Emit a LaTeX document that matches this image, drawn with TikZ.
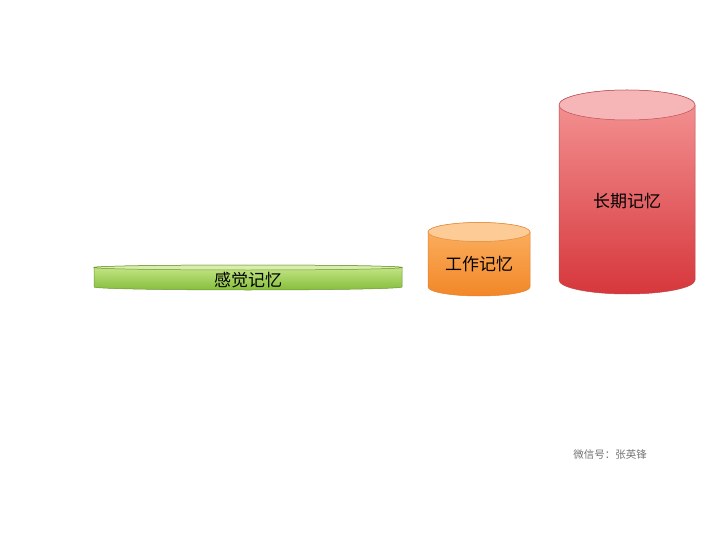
\documentclass[tikz,border=0pt]{standalone}
\usepackage{fontspec}
\newfontfamily\cjk{Noto Sans CJK SC}
\begin{document}
\begin{tikzpicture}[x=1pt,y=-1pt,
  lbl/.style={font=\cjk\fontsize{17}{20}\selectfont, text=black},
  wm/.style={font=\cjk\fontsize{10.5}{12}\selectfont, text=black!55}]
\useasboundingbox (0,0) rectangle (720,540);
% green flat cylinder
\path[top color={rgb,255:red,200;green,232;blue,140}, bottom color={rgb,255:red,134;green,190;blue,60}, draw={rgb,255:red,110;green,150;blue,50}, line width=0.5pt]
  (94,267.5) -- (94,287) arc[start angle=180, end angle=0, x radius=154, y radius=3] -- (402,267.5) arc[start angle=360, end angle=180, x radius=154, y radius=2.5] -- cycle;
\path[fill={rgb,255:red,214;green,238;blue,170}, draw={rgb,255:red,110;green,150;blue,50}, line width=0.5pt]
  (248,267.5) ellipse[x radius=154, y radius=2.5];
\node[lbl] (s) at (248,280) {感觉记忆};
% orange cylinder
\path[top color={rgb,255:red,252;green,178;blue,100}, bottom color={rgb,255:red,242;green,135;blue,40}, draw={rgb,255:red,225;green,130;blue,50}, line width=0.5pt]
  (428,232) -- (428,287) arc[start angle=180, end angle=0, x radius=51, y radius=9] -- (530,232) arc[start angle=360, end angle=180, x radius=51, y radius=9.5] -- cycle;
\path[fill={rgb,255:red,252;green,203;blue,150}, draw={rgb,255:red,225;green,140;blue,60}, line width=0.5pt]
  (479,232) ellipse[x radius=51, y radius=9.5];
\node[lbl] (w) at (479,264) {工作记忆};
% red cylinder
\path[top color={rgb,255:red,245;green,150;blue,150}, bottom color={rgb,255:red,214;green,55;blue,60}, draw={rgb,255:red,190;green,70;blue,75}, line width=0.5pt]
  (559,105) -- (559,280) arc[start angle=180, end angle=0, x radius=68, y radius=14] -- (695,105) arc[start angle=360, end angle=180, x radius=68, y radius=15] -- cycle;
\path[fill={rgb,255:red,246;green,182;blue,184}, draw={rgb,255:red,190;green,80;blue,85}, line width=0.5pt]
  (627,105) ellipse[x radius=68, y radius=15];
\node[lbl] (l) at (627,201) {长期记忆};
\node[wm] (m) at (610,455) {微信号：张英锋};
\end{tikzpicture}
\end{document}
